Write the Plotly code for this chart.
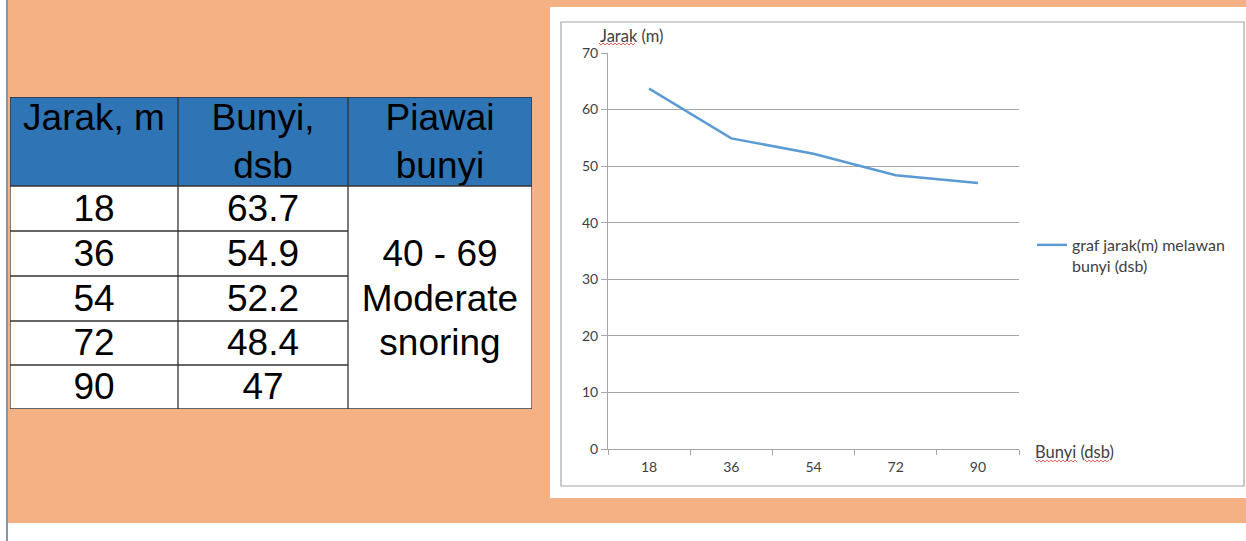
import plotly.graph_objects as go

# ---------------- data ----------------
jarak = ["18", "36", "54", "72", "90"]          # categories (x)
bunyi = [63.7, 54.9, 52.2, 48.4, 47]            # series values (y)
y_ticks = [0, 10, 20, 30, 40, 50, 60, 70]
series_name = "graf jarak(m) melawan<br>bunyi (dsb)"
y_title = "Jarak (m)"
x_title = "Bunyi (dsb)"

table_header = ["Jarak, m", "Bunyi,<br>dsb", "Piawai<br>bunyi"]
table_col1 = ["18", "36", "54", "72", "90"]
table_col2 = ["63.7", "54.9", "52.2", "48.4", "47"]
table_col3 = ["40 - 69", "Moderate", "snoring"]

# ---------------- geometry (layout only) ----------------
W, H = 1246, 541
def px(x): return x / W
def py(y): return 1 - y / H

col_edges = [10, 178, 348, 532]
row_edges = [97, 186, 231, 276, 321, 365, 409]
TEXT_DY = 3  # small downward nudge of table text

ORANGE = "#F4B183"
BLUE_HDR = "#2F75B5"
GRID = "#A6A6A6"
LINE = "#5B9BD5"
TXT = "#404040"
CFONT = "Lato"

fig = go.Figure()

fig.add_trace(go.Scatter(
    x=jarak, y=bunyi, mode="lines", name=series_name,
    line=dict(color=LINE, width=2.5), xaxis="x", yaxis="y",
    hoverinfo="skip"))

col_c = [(col_edges[i] + col_edges[i + 1]) / 2 for i in range(3)]
row_c = [(row_edges[i] + row_edges[i + 1]) / 2 + TEXT_DY for i in range(6)]
tx, ty, tt = [], [], []
tx += [col_c[0], col_c[1], col_c[2]]
ty += [row_edges[0] + 22 + TEXT_DY - 1, row_c[0], row_c[0]]
tt += table_header
for i in range(5):
    tx += [col_c[0], col_c[1]]
    ty += [row_c[i + 1], row_c[i + 1]]
    tt += [table_col1[i], table_col2[i]]
for j, t in enumerate(table_col3):
    tx.append(col_c[2]); ty.append(row_c[j + 2]); tt.append(t)

fig.add_trace(go.Scatter(
    x=tx, y=ty, text=tt, mode="text", textposition="middle center",
    textfont=dict(family="Liberation Sans, Arial", size=37, color="black"),
    xaxis="x2", yaxis="y2", showlegend=False, hoverinfo="skip", cliponaxis=False))

shapes = []
shapes.append(dict(type="rect", xref="paper", yref="paper",
                   x0=px(8), x1=1, y0=py(523), y1=1,
                   fillcolor=ORANGE, line=dict(width=0), layer="below"))
shapes.append(dict(type="line", xref="paper", yref="paper",
                   x0=px(7), x1=px(7), y0=0, y1=1,
                   line=dict(color="#8795A8", width=2), layer="below"))
shapes.append(dict(type="rect", xref="paper", yref="paper",
                   x0=px(550), x1=1, y0=py(498), y1=py(7),
                   fillcolor="white", line=dict(width=0), layer="below"))
shapes.append(dict(type="rect", xref="paper", yref="paper",
                   x0=px(561), x1=px(1244), y0=py(486), y1=py(22),
                   fillcolor="rgba(0,0,0,0)", line=dict(color="#A6A6A6", width=1.2),
                   layer="below"))
shapes.append(dict(type="rect", xref="x2", yref="y2",
                   x0=col_edges[0], x1=col_edges[3], y0=row_edges[0], y1=row_edges[1],
                   fillcolor=BLUE_HDR, line=dict(width=0), layer="below"))
shapes.append(dict(type="rect", xref="x2", yref="y2",
                   x0=col_edges[0], x1=col_edges[3], y0=row_edges[1], y1=row_edges[6],
                   fillcolor="white", line=dict(width=0), layer="below"))
TL = dict(color="#333333", width=1.3)
for xe in col_edges:
    shapes.append(dict(type="line", xref="x2", yref="y2", x0=xe, x1=xe,
                       y0=row_edges[0], y1=row_edges[6], line=TL))
for k, ye in enumerate(row_edges):
    x1 = col_edges[3] if k in (0, 1, 6) else col_edges[2]
    shapes.append(dict(type="line", xref="x2", yref="y2", x0=col_edges[0], x1=x1,
                       y0=ye, y1=ye, line=TL))

def squiggle(x0, x1, y):
    pts = []
    x = x0
    up = True
    while x <= x1:
        pts.append((px(x), py(y - 1 if up else y + 1)))
        x += 2
        up = not up
    d = "M " + " L ".join(f"{a:.5f},{b:.5f}" for a, b in pts)
    return dict(type="path", xref="paper", yref="paper", path=d,
                line=dict(color="#E03A3A", width=0.8))
shapes.append(squiggle(599, 636, 44))
shapes.append(squiggle(1035, 1077, 461))
shapes.append(squiggle(1085, 1110, 461))

annotations = [
    dict(xref="paper", yref="paper", x=px(598), y=py(36), xanchor="left", yanchor="middle",
         text=y_title, showarrow=False, font=dict(family=CFONT, size=16.5, color=TXT)),
    dict(xref="paper", yref="paper", x=px(1033), y=py(452), xanchor="left", yanchor="middle",
         text=x_title, showarrow=False, font=dict(family=CFONT, size=16.5, color=TXT)),
]

fig.update_layout(
    width=W, height=H, margin=dict(l=0, r=0, t=0, b=0, autoexpand=False),
    paper_bgcolor="white", plot_bgcolor="rgba(0,0,0,0)",
    shapes=shapes, annotations=annotations,
    xaxis=dict(domain=[px(608), px(1019)], anchor="y", type="category",
               range=[-0.5, 4.5], automargin=False,
               tickson="boundaries", ticks="outside", ticklen=5, tickcolor=GRID,
               showline=True, linecolor=GRID, linewidth=1, showgrid=False,
               tickfont=dict(family=CFONT, size=14, color=TXT), ticklabelstandoff=5),
    yaxis=dict(domain=[py(449), py(53)], anchor="x", range=[0, 70], tickvals=y_ticks,
               automargin=False,
               ticks="outside", ticklen=6, tickcolor=GRID, showline=True, linecolor=GRID,
               linewidth=1, showgrid=True, gridcolor=GRID, gridwidth=1, zeroline=False,
               tickfont=dict(family=CFONT, size=14, color=TXT)),
    xaxis2=dict(domain=[px(col_edges[0]), px(col_edges[3])], anchor="y2",
                range=[col_edges[0], col_edges[3]], visible=False, automargin=False),
    yaxis2=dict(domain=[py(row_edges[6]), py(row_edges[0])], anchor="x2",
                range=[row_edges[6], row_edges[0]], visible=False, automargin=False),
    showlegend=True,
    legend=dict(x=px(1032), y=py(228), xanchor="left", yanchor="top", valign="top",
                bgcolor="rgba(0,0,0,0)", font=dict(family=CFONT, size=16, color=TXT),
                itemwidth=30, tracegroupgap=0),
)

fig.write_html("out.html", config={"displayModeBar": False},
               post_script="document.body.style.margin='0';")
